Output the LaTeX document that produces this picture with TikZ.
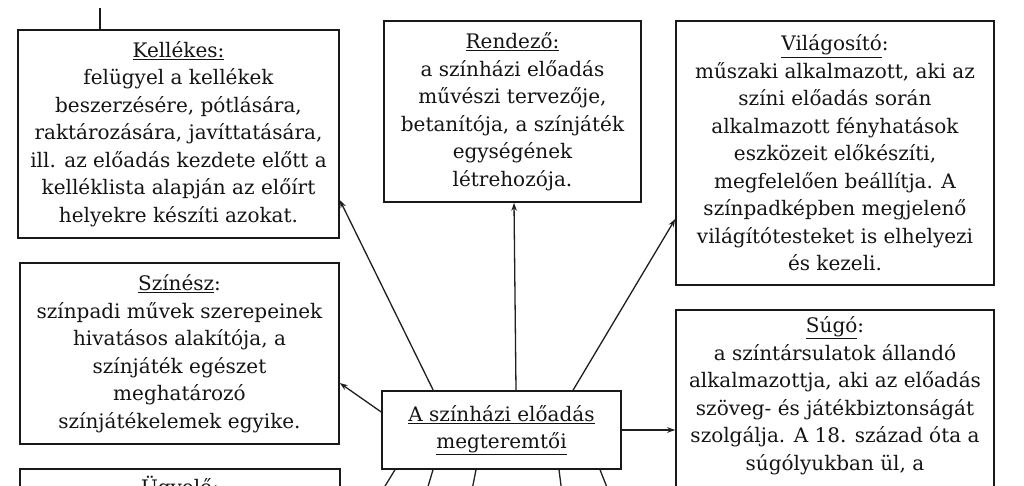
\documentclass[tikz,border=0pt]{standalone}
\usepackage{fontspec}
\setmainfont{DejaVu Serif}
\usetikzlibrary{arrows.meta,calc}
\begin{document}
\begin{tikzpicture}[x=1pt,y=-1pt,
  box/.style={draw=black!90, line width=1.5pt, fill=white, align=center,
    inner sep=0pt, font=\fontsize{20}{27.5}\selectfont, text=black!92},
  conn/.style={line width=1.3pt, draw=black!88, -{Stealth[length=8pt,width=5.5pt]}}]
\useasboundingbox (0,0) rectangle (1024,485);
\clip (0,0) rectangle (1024,485);
\fill[white] (0,0) rectangle (1024,485);

\node[box, minimum width=321pt, minimum height=208pt] (kel) at (178.5,134)
 {\underline{Kellékes:}\\felügyel a kellékek\\beszerzésére, pótlására,\\raktározására, javíttatására,\\ill. az előadás kezdete előtt a\\kelléklista alapján az előírt\\helyekre készíti azokat.};
\node[box, minimum width=257pt, minimum height=181pt] (ren) at (512.5,111.5)
 {\underline{Rendező:}\\a színházi előadás\\művészi tervezője,\\betanítója, a színjáték\\egységének\\létrehozója.};
\node[box, minimum width=318pt, minimum height=264pt] (vil) at (835,153)
 {\underline{Világosító}:\\műszaki alkalmazott, aki az\\színi előadás során\\alkalmazott fényhatások\\eszközeit előkészíti,\\megfelelően beállítja. A\\színpadképben megjelenő\\világítótesteket is elhelyezi\\és kezeli.};
\node[box, minimum width=319pt, minimum height=181pt] (szi) at (179.5,353.5)
 {\underline{Színész}:\\színpadi művek szerepeinek\\hivatásos alakítója, a\\színjáték egészet\\meghatározó\\színjátékelemek egyike.};
\node[box, minimum width=318pt, anchor=north, inner ysep=7pt, text depth=120pt] (sug) at (835,309)
 {\underline{Súgó}:\\a színtársulatok állandó\\alkalmazottja, aki az előadás\\szöveg- és játékbiztonságát\\szolgálja. A 18. század óta a\\súgólyukban ül, a};
\node[box, minimum width=320pt, anchor=north, inner ysep=7pt, text depth=120pt] (ugy) at (180,468)
 {\underline{Ügyelő:}};
\node[box, minimum width=239pt, minimum height=78pt] (cen) at (501.5,430)
 {\underline{A színházi előadás}\\\underline{megteremtői}};

\coordinate (tick) at ([xshift=-78.5pt,yshift=21pt]kel.north);
\draw[line width=2.5pt, black!90] (tick) -- (kel.north -| tick);

\draw[conn] ([xshift=52pt]cen.north west) -- ([yshift=-66pt]kel.east);
\draw[conn] ([xshift=14.5pt]cen.north) -- ([xshift=1.5pt]ren.south);
\draw[conn] ([xshift=71.5pt]cen.north) -- ([yshift=-66pt]vil.west);
\draw[conn] ([yshift=18pt]cen.west) -- ([yshift=-29.5pt]szi.east);
\draw[conn] (cen.east) -- (cen.east -| sug.west);

\coordinate (d1) at (352,540);
\coordinate (d2) at (412,540);
\coordinate (d3) at (462,540);
\coordinate (d4) at (568,540);
\coordinate (d5) at (628,540);
\draw[conn] ([xshift=-106.5pt]cen.south) -- (d1);
\draw[conn] ([xshift=-68.5pt]cen.south) -- (d2);
\draw[conn] ([xshift=-25.5pt]cen.south) -- (d3);
\draw[conn] ([xshift=57.5pt]cen.south) -- (d4);
\draw[conn] ([xshift=98.5pt]cen.south) -- (d5);
\end{tikzpicture}
\end{document}
